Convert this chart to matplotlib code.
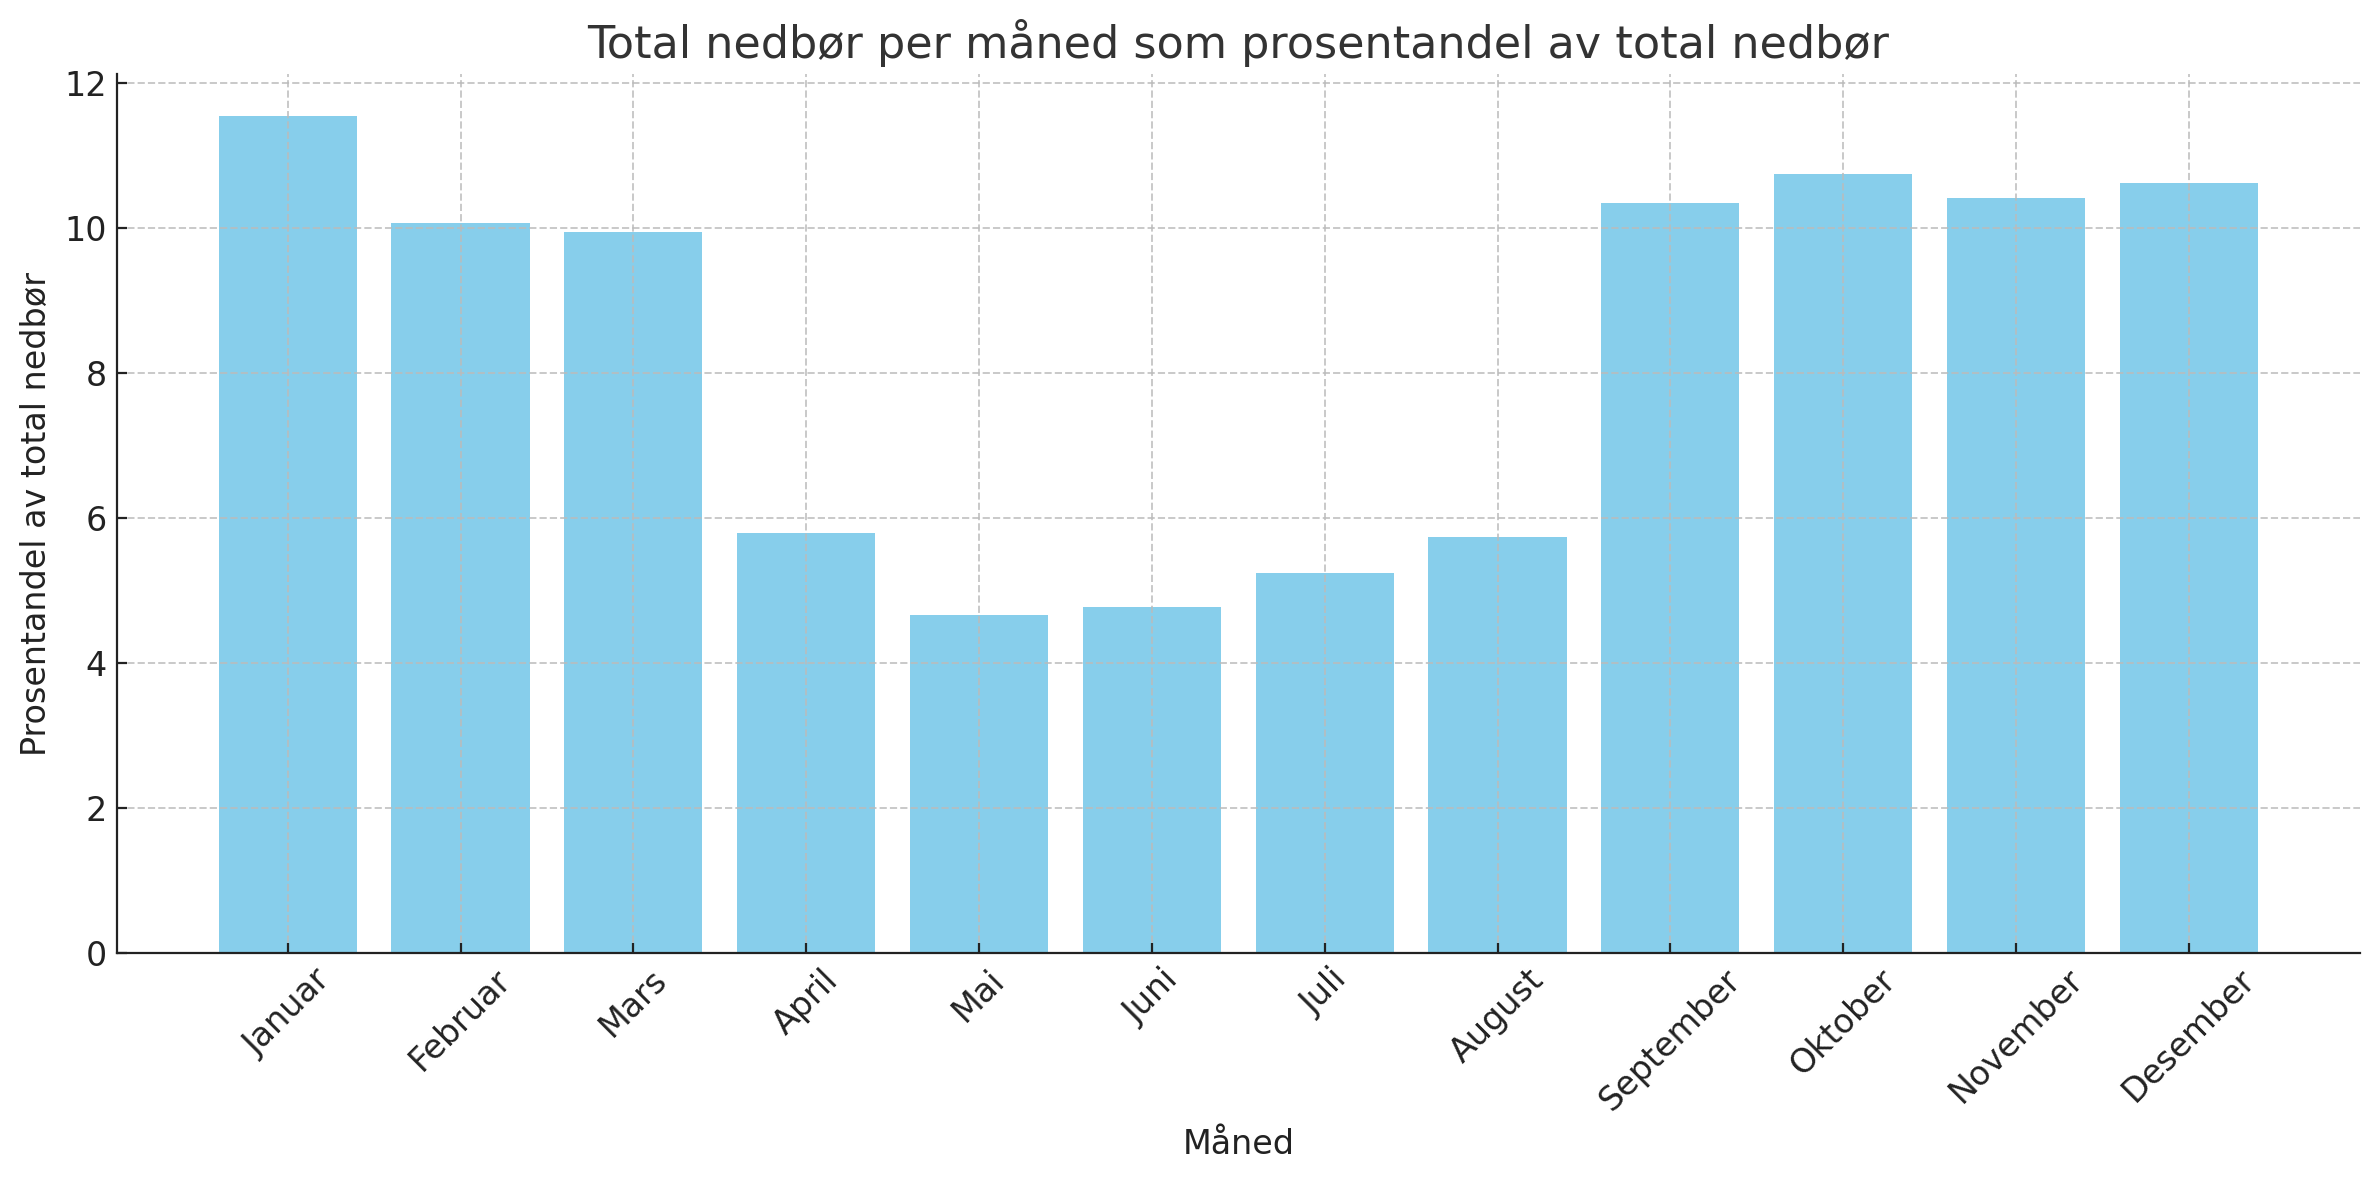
import numpy as np
import matplotlib

matplotlib.use('Agg')
from matplotlib import pyplot as plt

months = ['Januar', 'Februar', 'Mars', 'April', 'Mai', 'Juni', 'Juli', 'August',
          'September', 'Oktober', 'November', 'Desember']
percent = [11.54, 10.07, 9.95, 5.80, 4.67, 4.77, 5.24, 5.74, 10.35, 10.74, 10.41, 10.62]

fig, ax = plt.subplots(figsize=(11.895, 5.9), dpi=200)
fig.subplots_adjust(left=0.049, right=0.992, bottom=0.192, top=0.937)

ax.bar(months, percent, color='skyblue')

ax.set_title('Total nedbør per måned som prosentandel av total nedbør', fontsize=16, color='#333333')
ax.set_xlabel('Måned', fontsize=12, color='#222222')
ax.set_ylabel('Prosentandel av total nedbør', fontsize=12, color='#222222')
ax.tick_params(direction='in', length=3.5, colors='#222222', labelsize=12)
ax.tick_params(axis='x', labelrotation=45)
ax.grid(True, linestyle='--', color='#bbbbbb', alpha=0.8, linewidth=0.7)

for side in ['top', 'right']:
    ax.spines[side].set_visible(False)
for side in ['left', 'bottom']:
    ax.spines[side].set_color('#222222')

plt.savefig('out.png', dpi=200)
plt.close()
